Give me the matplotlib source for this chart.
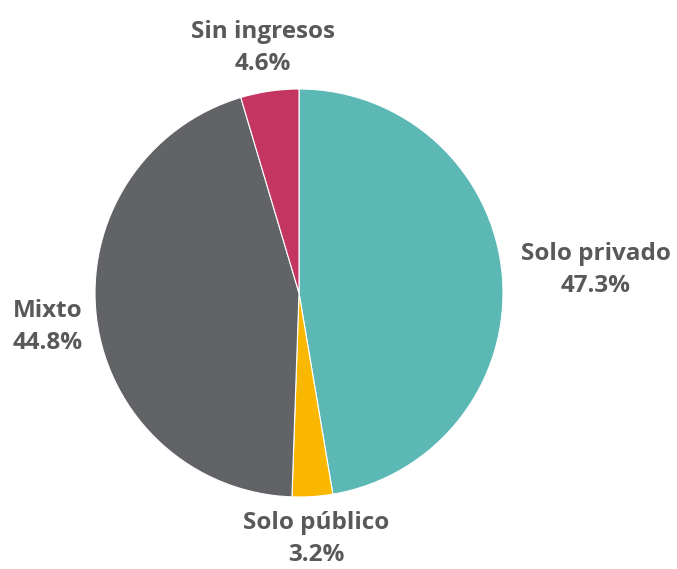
import matplotlib
matplotlib.use("Agg")
import matplotlib.pyplot as plt

categorias = ["Solo privado", "Solo público", "Mixto", "Sin ingresos"]
valores = [47.3, 3.2, 44.8, 4.6]
colores = ["#5BB8B4", "#F9B700", "#616366", "#C43562"]

# posiciones de las etiquetas en pixeles (x, y desde arriba)
pos_etiquetas = [(596, 270), (316, 539), (48, 327), (263, 48)]

plt.rcParams["font.family"] = ["Open Sans", "DejaVu Sans"]

W, H = 677, 569
fig = plt.figure(figsize=(W / 100, H / 100), dpi=100)
cx, cy, r = 299, 293, 204
ax = fig.add_axes([(cx - r) / W, 1 - (cy + r) / H, 2 * r / W, 2 * r / H])
ax.pie(valores, colors=colores, startangle=90, counterclock=False,
       wedgeprops=dict(edgecolor="white", linewidth=0.8))
ax.set_xlim(-1, 1)
ax.set_ylim(-1, 1)
ax.set_aspect("equal")

for cat, val, (x, y) in zip(categorias, valores, pos_etiquetas):
    fig.text(x / W, 1 - y / H, f"{cat}\n{val:.1f}%", ha="center", va="center",
             fontsize=17.5, fontweight="bold", color="#58595B", linespacing=1.45)

fig.savefig("out.png", dpi=100)
